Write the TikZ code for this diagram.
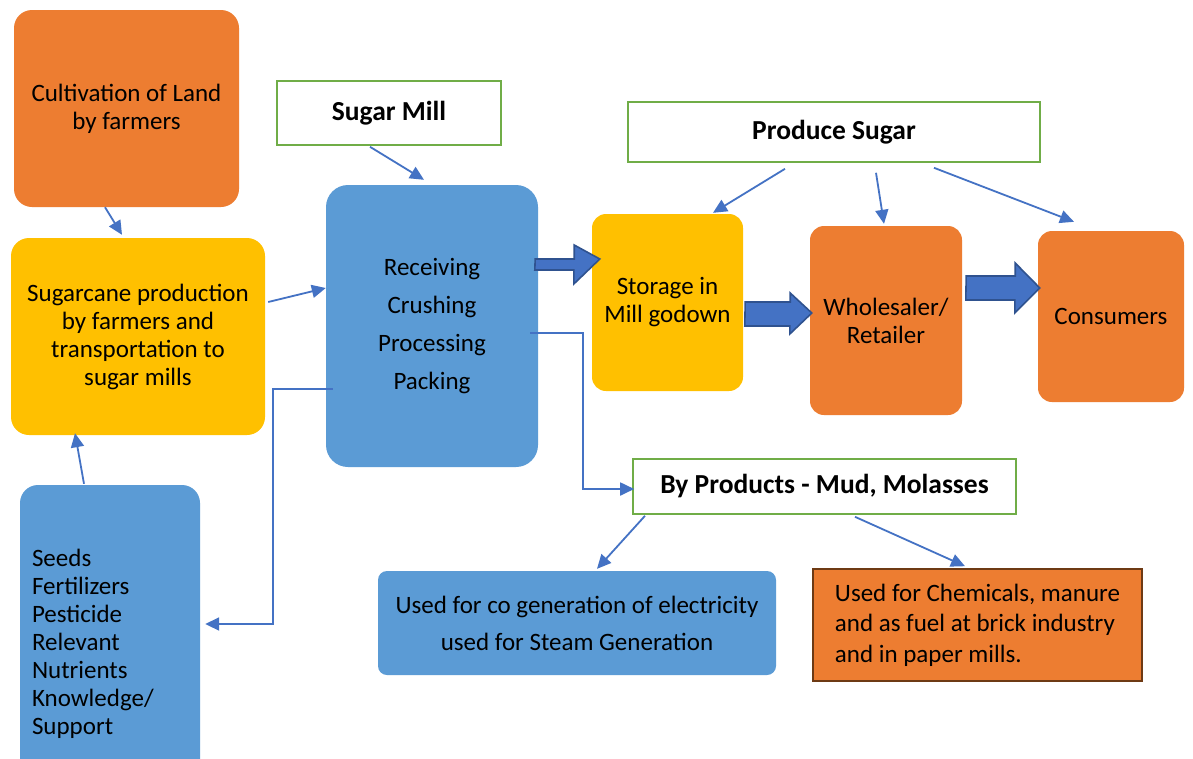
\documentclass[tikz,border=0pt]{standalone}
\usepackage{fontspec}
\setmainfont{Carlito}
\usetikzlibrary{arrows.meta}
\definecolor{cOrange}{HTML}{ED7D31}
\definecolor{cYellow}{HTML}{FFC000}
\definecolor{cBlue}{HTML}{5B9BD5}
\definecolor{cGreen}{HTML}{70AD47}
\definecolor{cArrow}{HTML}{4472C4}
\definecolor{cArrowDark}{HTML}{2F528F}
\definecolor{cBrown}{HTML}{6E3A14}
\tikzset{
  box/.style={rounded corners=18pt, inner sep=0pt, align=center, font=\fontsize{25}{28}\selectfont},
  orangebox/.style={box, fill=cOrange},
  yellowbox/.style={box, fill=cYellow},
  bluebox/.style={box, fill=cBlue},
  titlebox/.style={draw=cGreen, line width=1.6pt, fill=white, inner sep=0pt, align=center, font=\fontsize{27.5}{30}\selectfont\bfseries},
  conn/.style={draw=cArrow, line width=1.8pt, -{Triangle[length=14pt,width=13pt]}},
  bigarr/.style={fill=cArrow, draw=cArrowDark, line width=1.6pt, line join=miter},
}
\begin{document}
\begin{tikzpicture}[x=1pt,y=-1pt]
\useasboundingbox[fill=white] (0,0) rectangle (1193,758);

% boxes
\node[orangebox, minimum width=225pt, minimum height=197pt] (cult) at (126.5,108.5) {Cultivation of Land\\by farmers};
\node[yellowbox, minimum width=254pt, minimum height=197pt] (cane) at (138,336.5) {Sugarcane production\\by farmers and\\transportation to\\sugar mills};
\node[bluebox, minimum width=180pt, minimum height=318pt, align=left, text width=156pt] (seeds) at (110,644) {Seeds\\Fertilizers\\Pesticide\\Relevant\\Nutrients\\Knowledge/\\Support};
\node[titlebox, minimum width=224pt, minimum height=64pt] (mill) at (389,113) {Sugar Mill};
\node[bluebox, rounded corners=22pt, minimum width=212pt, minimum height=282pt, font=\fontsize{25}{38}\selectfont] (recv) at (432,326) {Receiving\\Crushing\\Processing\\Packing};
\node[titlebox, minimum width=412pt, minimum height=60pt] (prod) at (834,132) {Produce Sugar};
\node[yellowbox, rounded corners=14pt, minimum width=151pt, minimum height=177pt] (stor) at (667.5,302.5) {Storage in\\Mill godown};
\node[orangebox, rounded corners=14pt, minimum width=152pt, minimum height=189pt] (whol) at (886,320.5) {Wholesaler/\\Retailer};
\node[orangebox, rounded corners=14pt, minimum width=146pt, minimum height=171pt] (cons) at (1111,316.5) {Consumers};
\node[titlebox, minimum width=383pt, minimum height=55pt] (byp) at (824.5,486.5) {By Products - Mud, Molasses};
\node[bluebox, rounded corners=9pt, minimum width=398pt, minimum height=104pt, font=\fontsize{25}{37}\selectfont] (cogen) at (577,623) {Used for co generation of electricity\\used for Steam Generation};
\node[fill=cOrange, draw=cBrown, line width=1.6pt, inner sep=0pt, align=left, minimum width=329pt, minimum height=112pt, font=\fontsize{25}{30.5}\selectfont] (chem) at (977.5,625) {Used for Chemicals, manure\\and as fuel at brick industry\\and in paper mills.};

% thin connectors
\draw[conn] ([shift={(-21.5,0)}]cult.south) -- ([shift={(-16,-3)}]cane.north);
\draw[conn] ([shift={(-19,1)}]mill.south) -- ([shift={(-8,-5)}]recv.north);
\draw[conn] ([shift={(3,-34.5)}]cane.east) -- ([shift={(0,-38)}]recv.west);
\draw[conn] ([shift={(-26,-1)}]seeds.north) -- ([shift={(-63,-2)}]cane.south);
\draw[conn] ([shift={(7,63)}]recv.west) -- ++(-60,0) |- ([shift={(5,-20)}]seeds.east);
\draw[conn] ([shift={(-8,7)}]recv.east) -- ++(53,0) |- ([shift={(2,2.5)}]byp.west);
\draw[conn] ([shift={(-49,6)}]prod.south) -- ([shift={(45.5,-1)}]stor.north);
\draw[conn] ([shift={(42,10)}]prod.south) -- ([shift={(-2,-2)}]whol.north);
\draw[conn] ([shift={(100,5)}]prod.south) -- ([shift={(-37,-9)}]cons.north);
\draw[conn] ([shift={(-179.5,1)}]byp.south) -- ([shift={(20,-2)}]cogen.north);
\draw[conn] ([shift={(30.5,2)}]byp.south) -- ([shift={(-12.5,-2)}]chem.north);

% block arrows
\draw[bigarr] ([shift={(-3,-67)}]recv.east) -- ++(39,0) -- ++(0,-14) -- ([shift={(8,-43.5)}]stor.west) -- ++(-26,25) -- ++(0,-14) -- ++(-39,0) -- cycle;
\draw[bigarr] ([shift={(2,0)}]stor.east |- 0,302) -- ++(45,0) -- ++(0,-9) -- ([shift={(2,-7.5)}]whol.west) -- ++(-22,21) -- ++(0,-8) -- ++(-45,0) -- cycle;
\draw[bigarr] ([shift={(4,0)}]whol.east |- 0,276) -- ++(49,0) -- ++(0,-13) -- ([shift={(2,-28.5)}]cons.west) -- ++(-25,25) -- ++(0,-13) -- ++(-49,0) -- cycle;
\end{tikzpicture}
\end{document}
